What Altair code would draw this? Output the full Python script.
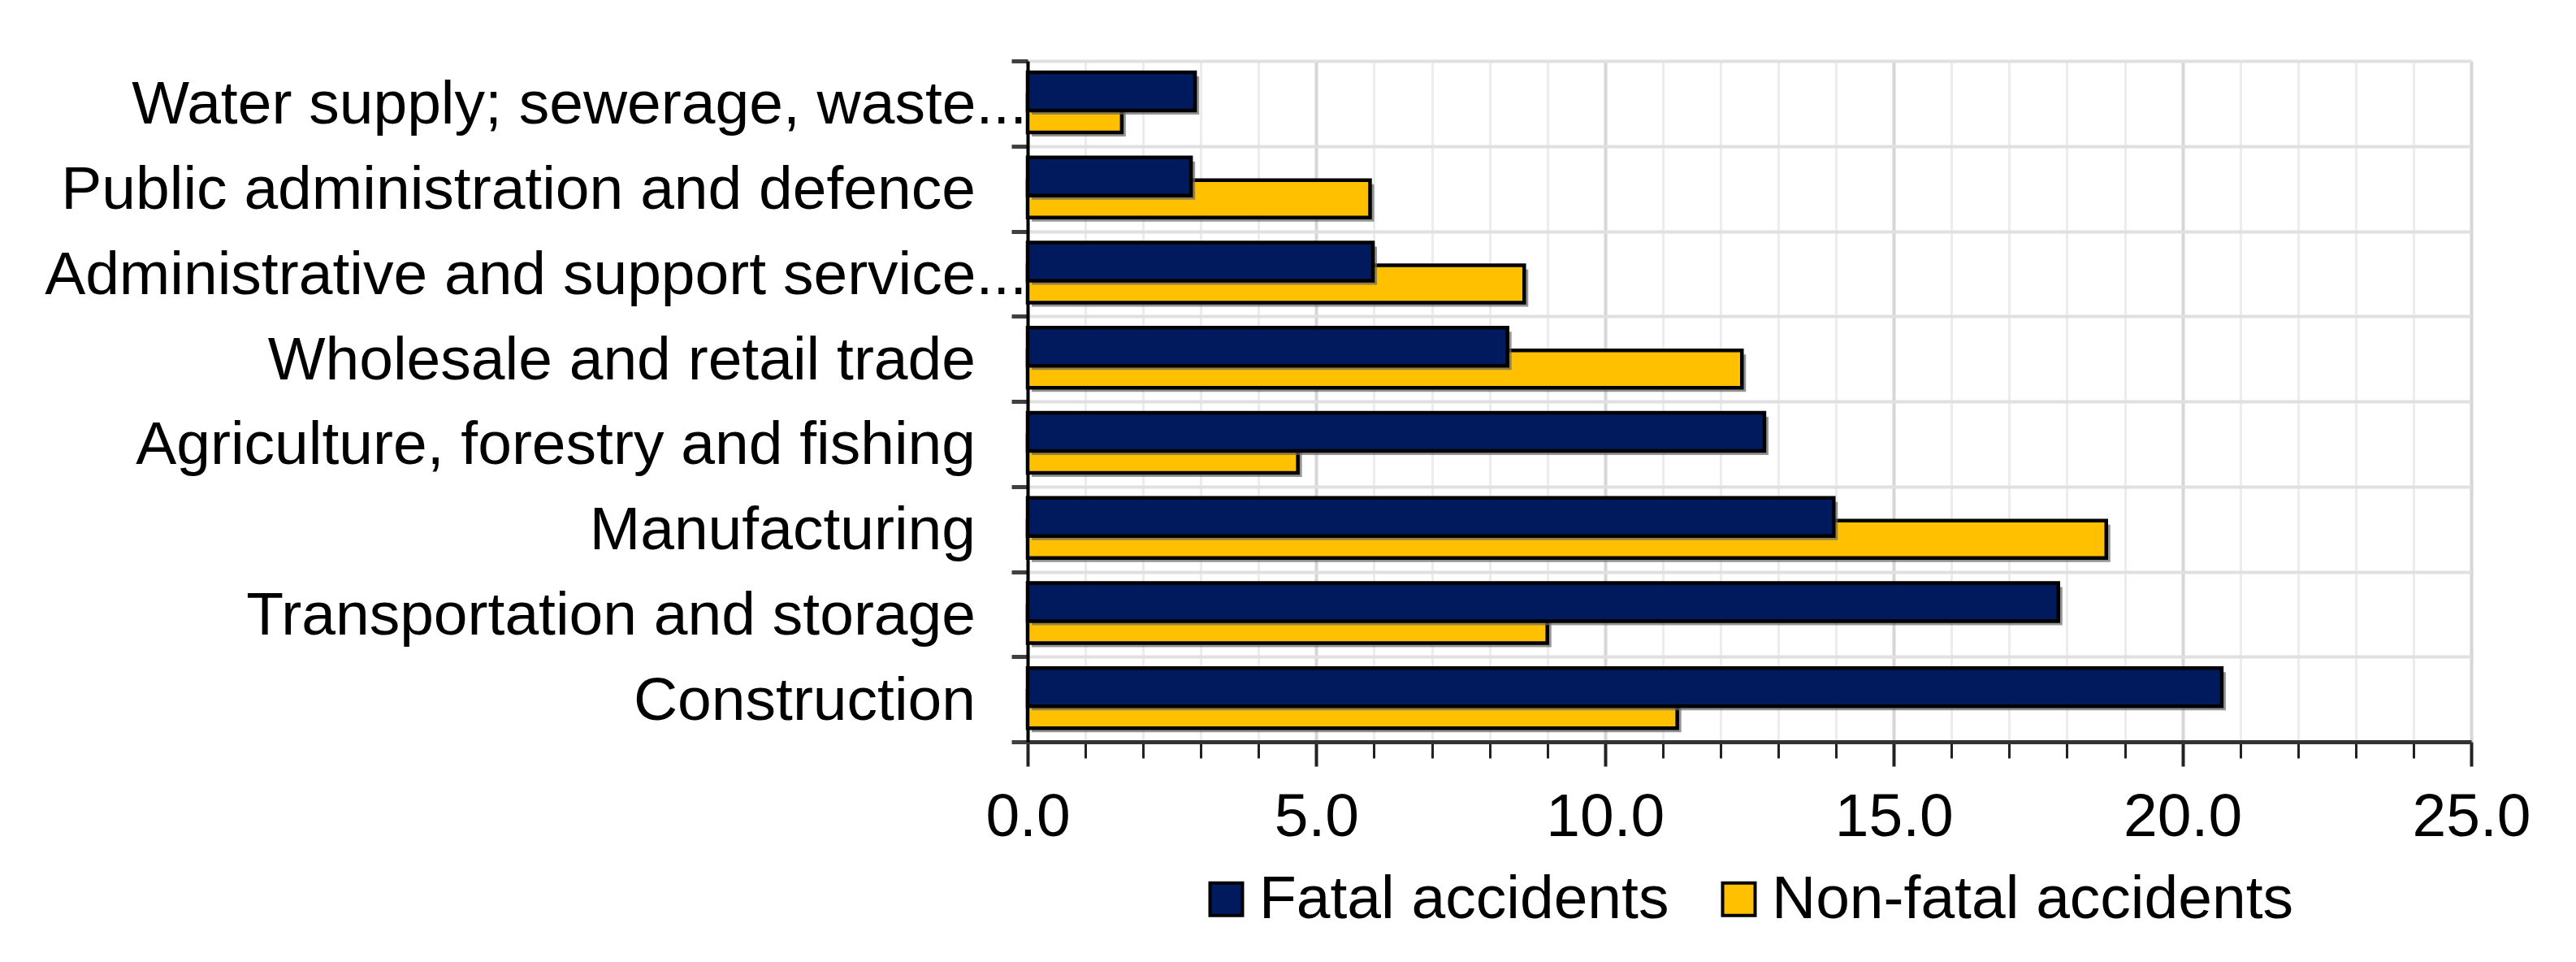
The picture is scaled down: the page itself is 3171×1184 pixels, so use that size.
import altair as alt
import pandas as pd

categories = [
    "Water supply; sewerage, waste...",
    "Public administration and defence",
    "Administrative and support service...",
    "Wholesale and retail trade",
    "Agriculture, forestry and fishing",
    "Manufacturing",
    "Transportation and storage",
    "Construction",
]
fatal = [2.90, 2.83, 5.98, 8.31, 12.76, 13.96, 17.85, 20.68]
non_fatal = [1.63, 5.93, 8.60, 12.37, 4.68, 18.68, 9.00, 11.25]
series_names = ["Fatal accidents", "Non-fatal accidents"]
series_colors = ["#001A5E", "#FFC000"]
x_ticks = list(range(0, 26))

rows = []
for c, f, n in zip(categories, fatal, non_fatal):
    rows.append({"category": c, "series": series_names[0], "value": f})
    rows.append({"category": c, "series": series_names[1], "value": n})
df = pd.DataFrame(rows)

FONT = "Liberation Sans"
FS = 75
major = "datum.value % 5 === 0"

x_enc = alt.X(
    "value:Q",
    scale=alt.Scale(domain=[0, 25], nice=False, zero=True),
    axis=alt.Axis(
        title=None,
        values=x_ticks,
        labelExpr=f"{major} ? format(datum.value, '.1f') : ''",
        labelFont=FONT,
        labelFontSize=FS,
        labelColor="black",
        labelPadding=26,
        labelFlush=False,
        tickSize={"condition": {"test": major, "value": 30}, "value": 20},
        tickWidth={"condition": {"test": major, "value": 4}, "value": 3},
        tickColor="#222222",
        domainColor="#333333",
        domainWidth=5,
        grid=True,
        gridColor={"condition": {"test": major, "value": "#d6d6d6"}, "value": "#ececec"},
        gridWidth={"condition": {"test": major, "value": 4}, "value": 3},
    ),
)
y_enc = alt.Y(
    "category:N",
    sort=categories,
    scale=alt.Scale(paddingInner=0, paddingOuter=0),
    axis=alt.Axis(
        title=None,
        tickBand="extent",
        labels=False,
        tickSize=20,
        tickWidth=5,
        tickColor="#404040",
        domainColor="black",
        domainWidth=4,
        grid=True,
        gridColor="#e0e0e0",
        gridWidth=4,
    ),
)
color_enc = alt.Color(
    "series:N",
    scale=alt.Scale(domain=series_names, range=series_colors),
    legend=alt.Legend(
        title=None,
        orient="none",
        legendX=207,
        legendY=994,
        direction="horizontal",
        labelFont=FONT,
        labelFontSize=FS,
        labelColor="black",
        labelLimit=2000,
        labelOffset=3,
        columnPadding=48,
        symbolType="square",
        symbolSize=1600,
        symbolStrokeColor="black",
        symbolStrokeWidth=4,
    ),
)

base = alt.Chart(df)
nf = base.transform_filter(alt.datum.series == series_names[1])
fa = base.transform_filter(alt.datum.series == series_names[0])

nf_shadow = nf.mark_bar(size=46, yOffset=17.5, xOffset=5, color="#666666", opacity=0.7).encode(
    x=x_enc, y=y_enc
)
nf_bar = nf.mark_bar(size=46, yOffset=12.5, stroke="black", strokeWidth=4.5).encode(
    x=x_enc, y=y_enc, color=color_enc
)
fa_shadow = fa.mark_bar(size=47, yOffset=-10, xOffset=5, color="#666666", opacity=0.7).encode(
    x=x_enc, y=y_enc
)
fa_bar = fa.mark_bar(size=47, yOffset=-15, stroke="black", strokeWidth=4.5).encode(
    x=x_enc, y=y_enc, color=color_enc
)

# category labels (truncated ones run up to the axis, as in the original)
dotted = "indexof(datum.category, '...') >= 0"
lab_plain = fa.transform_filter(f"!({dotted})").mark_text(
    align="right", baseline="middle", font=FONT, fontSize=FS, color="black", dx=-64, dy=2
).encode(y=y_enc, x=alt.value(0), text="category:N")
lab_dotted = fa.transform_filter(dotted).mark_text(
    align="right", baseline="middle", font=FONT, fontSize=FS, color="black", dx=-1, dy=2
).encode(y=y_enc, x=alt.value(0), text="category:N")

chart = (
    alt.layer(nf_shadow, nf_bar, fa_shadow, fa_bar, lab_plain, lab_dotted)
    .properties(
        width=1777,
        height=838,
        autosize="none",
        padding={"left": 1257, "top": 67, "right": 100, "bottom": 250},
    )
    .configure_view(stroke=None)
    .configure(font=FONT, background="white")
)

chart.save("out.html", embed_options={"renderer": "svg", "actions": False})
